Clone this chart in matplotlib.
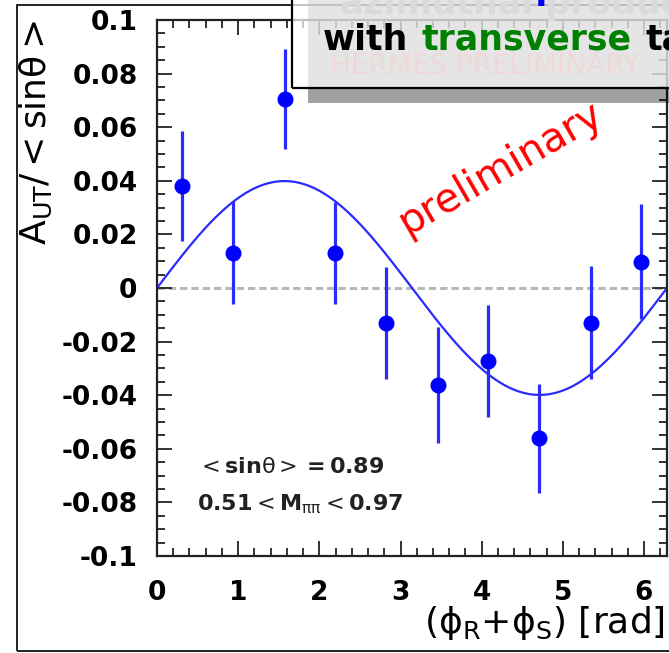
import numpy as np
import matplotlib.pyplot as plt
from matplotlib.patches import Rectangle
from matplotlib.ticker import MultipleLocator

plt.rcParams['font.family'] = ['DejaVu Sans']
plt.rcParams['mathtext.fontset'] = 'dejavusans'

# values
phi_bins = [0.314, 0.942, 1.571, 2.199, 2.827, 3.456, 4.084, 4.712, 5.341, 5.969]
a_ut = [0.0380, 0.0132, 0.0704, 0.0132, -0.0131, -0.0362, -0.0272, -0.0561, -0.0129, 0.0098]
a_err = [0.0205, 0.0193, 0.0187, 0.0190, 0.0210, 0.0217, 0.0210, 0.0203, 0.0211, 0.0214]
fit_amp = 0.0399          # A sin(phi) fit

x_ticks = [0, 1, 2, 3, 4, 5, 6]
x_tick_labels = ["0", "1", "2", "3", "4", "5", "6"]
y_ticks = [-0.1, -0.08, -0.06, -0.04, -0.02, 0.0, 0.02, 0.04, 0.06, 0.08, 0.1]
y_tick_labels = ["-0.1", "-0.08", "-0.06", "-0.04", "-0.02", "0",
                 "0.02", "0.04", "0.06", "0.08", "0.1"]

W, H = 669, 653
fig = plt.figure(figsize=(W / 100, H / 100), dpi=100)

def fx(px):
    return px / W

def fy(py):
    return 1 - py / H

ax = fig.add_axes([fx(157), fy(556), (667 - 157) / W, (556 - 20) / H])
ax.set_xlim(0, 2 * np.pi)
ax.set_ylim(-0.1, 0.1)

ax.axhline(0, color="#b8b8b8", lw=2.2, linestyle=(0, (2.4, 1.3)), zorder=1)

xf = np.linspace(0, 2 * np.pi, 300)
ax.plot(xf, fit_amp * np.sin(xf), color="#2a2aff", lw=1.6, zorder=2)

ax.errorbar(phi_bins, a_ut, yerr=a_err, fmt="o", ms=10.5, color="#0000ff",
            ecolor="#2b2bff", elinewidth=2.3, capsize=0, zorder=3)

ax.set_xticks(x_ticks)
ax.set_xticklabels(x_tick_labels, fontweight="bold")
ax.set_yticks(y_ticks)
ax.set_yticklabels(y_tick_labels, fontweight="bold")
ax.xaxis.set_minor_locator(MultipleLocator(0.2))
ax.yaxis.set_minor_locator(MultipleLocator(0.005))
ax.tick_params(which="both", direction="in", top=True, right=True,
               width=1.3, color="#222222", labelsize=19)
ax.tick_params(which="major", length=11)
ax.tick_params(which="minor", length=6)
ax.tick_params(axis="y", pad=14)
ax.tick_params(axis="x", pad=17)
for s in ax.spines.values():
    s.set_linewidth(1.6)
    s.set_color("#222222")

ax.text(0.49, -0.0668, r"$<\mathbf{sin}\mathregular{\theta}>\mathbf{=0.89}$",
        fontsize=16, va="center", color="#222222")
ax.text(0.49, -0.0806, r"$\mathbf{0.51}<\mathbf{M}_{\mathregular{\pi\pi}}<\mathbf{0.97}$",
        fontsize=16, va="center", color="#222222")

# axis titles
fig.text(fx(36), fy(132), r"$\mathregular{A_{UT}/< sin\theta >}$", rotation=90,
         fontsize=26, ha="center", va="center")
fig.text(fx(665), fy(633), r"($\mathregular{\phi_R}$+$\mathregular{\phi_S}$) [rad]",
         fontsize=26, ha="right", va="baseline")

fig.text(fx(501), fy(168), "preliminary", rotation=30, rotation_mode="anchor",
         color="red", fontsize=29, ha="center", va="center")

# slide frame and the overlaid title box
fig.add_artist(Rectangle((fx(17), fy(651)), 2, (651 - 5) / H, fill=False,
                         edgecolor="#111111", lw=1.3, transform=fig.transFigure, zorder=4))
fig.add_artist(Rectangle((fx(308), fy(103)), 1, 1, facecolor="black", alpha=0.37,
                         edgecolor="none", transform=fig.transFigure, zorder=5))
fig.add_artist(Rectangle((fx(292), fy(88)), 1, 1, facecolor="white", alpha=0.73,
                         edgecolor="none", transform=fig.transFigure, zorder=6))
fig.add_artist(Rectangle((fx(292), fy(88)), 1, 1, fill=False, edgecolor="black",
                         lw=1.6, transform=fig.transFigure, zorder=7))

fig.text(fx(330), fy(66), "HERMES PRELIMINARY", fontsize=20, color="#efd8d8",
         va="center", zorder=7)
fig.text(fx(340), fy(14), "azimuthal production", fontsize=25, fontweight="bold",
         color="#dadada", va="baseline", zorder=7.5)
fig.text(fx(330), fy(-1), "azimuthal production", fontsize=25, fontweight="bold",
         color="#0000ee", va="baseline", zorder=8)
fig.text(fx(323), fy(50), "with", fontsize=25, fontweight="bold",
         color="black", va="baseline", zorder=8)
fig.text(fx(422), fy(50), "transverse", fontsize=25, fontweight="bold",
         color="#008000", va="baseline", zorder=8)
fig.text(fx(646), fy(50), "target", fontsize=25, fontweight="bold",
         color="black", va="baseline", zorder=8)

fig.savefig("out.png", dpi=100)
